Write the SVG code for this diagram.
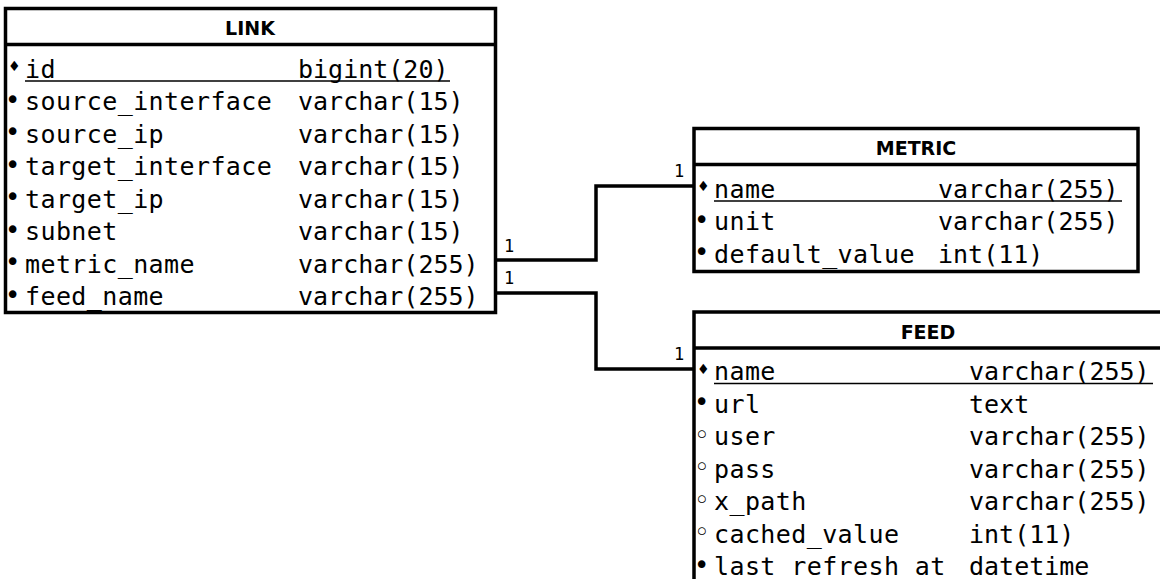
<svg xmlns="http://www.w3.org/2000/svg" width="1160" height="579" viewBox="0 0 1160 579">
<style>
.box{fill:#fff;stroke:#000;stroke-width:3.5}
.sep{stroke:#000;stroke-width:3.5}
.ul{stroke:#000;stroke-width:1.5}
.title{font-family:"DejaVu Sans",sans-serif;font-weight:bold;font-size:19px;text-anchor:middle;fill:#000}
.t{font-family:"DejaVu Sans Mono",monospace;font-size:25px;fill:#000}
.n{letter-spacing:0.4px}
.b{font-family:"DejaVu Sans",sans-serif;font-size:26px;fill:#000}
.d{font-family:"DejaVu Sans",sans-serif;font-size:14px;fill:#000}
.lbl{font-family:"DejaVu Sans Mono",monospace;font-size:17px;fill:#000}
.conn{fill:none;stroke:#000;stroke-width:3.5}
</style>
<rect width="1160" height="579" fill="#fff"/>
<g id="connectors">
<polyline class="conn" points="496,260 596,260 596,186 694,186"/>
<polyline class="conn" points="496,293 596,293 596,369 694,369"/>
<text class="lbl" x="504" y="252">1</text>
<text class="lbl" x="504" y="284">1</text>
<text class="lbl" x="674" y="177">1</text>
<text class="lbl" x="674" y="360">1</text>
</g>
<g id="link">
<rect class="box" x="5.5" y="8.5" width="490" height="304"/>
<line class="sep" x1="5.5" y1="44.5" x2="495.5" y2="44.5"/>
<text class="title" x="250" y="35">LINK</text>
<text class="d" x="8" y="71">♦</text>
<text class="t n" x="25" y="77.5">id</text>
<text class="t" x="298" y="77.5">bigint(20)</text>
<line class="ul" x1="25" y1="81" x2="450" y2="81"/>
<text class="b" x="5" y="108.5">•</text><text class="t n" x="25" y="110">source_interface</text><text class="t" x="298" y="110">varchar(15)</text>
<text class="b" x="5" y="141">•</text><text class="t n" x="25" y="142.5">source_ip</text><text class="t" x="298" y="142.5">varchar(15)</text>
<text class="b" x="5" y="173.5">•</text><text class="t n" x="25" y="175">target_interface</text><text class="t" x="298" y="175">varchar(15)</text>
<text class="b" x="5" y="206">•</text><text class="t n" x="25" y="207.5">target_ip</text><text class="t" x="298" y="207.5">varchar(15)</text>
<text class="b" x="5" y="238.5">•</text><text class="t n" x="25" y="240">subnet</text><text class="t" x="298" y="240">varchar(15)</text>
<text class="b" x="5" y="271">•</text><text class="t n" x="25" y="272.5">metric_name</text><text class="t" x="298" y="272.5">varchar(255)</text>
<text class="b" x="5" y="303.5">•</text><text class="t n" x="25" y="305">feed_name</text><text class="t" x="298" y="305">varchar(255)</text>
</g>
<g id="metric">
<rect class="box" x="694" y="128.5" width="444" height="143"/>
<line class="sep" x1="694" y1="164.5" x2="1138" y2="164.5"/>
<text class="title" x="916" y="155">METRIC</text>
<text class="d" x="697" y="191">♦</text>
<text class="t n" x="714" y="197.5">name</text><text class="t" x="938" y="197.5">varchar(255)</text>
<line class="ul" x1="714" y1="201" x2="1122" y2="201"/>
<text class="b" x="694" y="228.5">•</text><text class="t n" x="714" y="230">unit</text><text class="t" x="938" y="230">varchar(255)</text>
<text class="b" x="694" y="261">•</text><text class="t n" x="714" y="262.5">default_value</text><text class="t" x="938" y="262.5">int(11)</text>
</g>
<g id="feed">
<rect class="box" x="694" y="312" width="468" height="280"/>
<line class="sep" x1="694" y1="348" x2="1162" y2="348"/>
<text class="title" x="928" y="338.5">FEED</text>
<text class="d" x="697" y="373.5">♦</text>
<text class="t n" x="714" y="380">name</text><text class="t" x="969" y="380">varchar(255)</text>
<line class="ul" x1="714" y1="383.5" x2="1153" y2="383.5"/>
<text class="b" x="694" y="411">•</text><text class="t n" x="714" y="412.5">url</text><text class="t" x="969" y="412.5">text</text>
<text class="b" x="694" y="443.5">◦</text><text class="t n" x="714" y="445">user</text><text class="t" x="969" y="445">varchar(255)</text>
<text class="b" x="694" y="476">◦</text><text class="t n" x="714" y="477.5">pass</text><text class="t" x="969" y="477.5">varchar(255)</text>
<text class="b" x="694" y="508.5">◦</text><text class="t n" x="714" y="510">x_path</text><text class="t" x="969" y="510">varchar(255)</text>
<text class="b" x="694" y="541">◦</text><text class="t n" x="714" y="542.5">cached_value</text><text class="t" x="969" y="542.5">int(11)</text>
<text class="b" x="694" y="573.5">•</text><text class="t n" x="714" y="575">last_refresh_at</text><text class="t" x="969" y="575">datetime</text>
</g>
</svg>
